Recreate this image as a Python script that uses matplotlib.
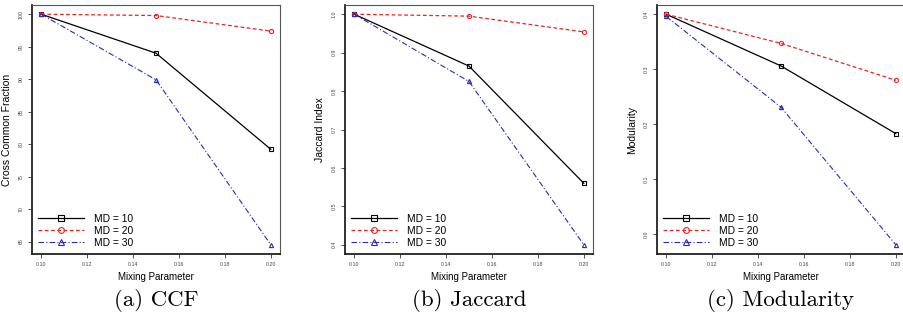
import numpy as np
import matplotlib
matplotlib.use("Agg")
import matplotlib.pyplot as plt

plt.rcParams["font.family"] = ["Liberation Sans", "DejaVu Sans"]

# mixing parameter values on the x axis
mixing = [0.10, 0.15, 0.20]
xticks = [0.10, 0.12, 0.14, 0.16, 0.18, 0.20]
series_names = ["MD = 10", "MD = 20", "MD = 30"]

ccf_md10 = [100.0, 94.0, 79.2]
ccf_md20 = [100.0, 99.8, 97.4]
ccf_md30 = [100.0, 89.9, 64.5]
ccf_yticks = [65, 70, 75, 80, 85, 90, 95, 100]

jac_md10 = [1.0, 0.865, 0.56]
jac_md20 = [1.0, 0.995, 0.954]
jac_md30 = [1.0, 0.825, 0.40]
jac_yticks = [0.4, 0.5, 0.6, 0.7, 0.8, 0.9, 1.0]

mod_md10 = [0.400, 0.306, 0.183]
mod_md20 = [0.400, 0.347, 0.280]
mod_md30 = [0.396, 0.231, -0.019]
mod_yticks = [0.0, 0.1, 0.2, 0.3, 0.4]

styles = [
    dict(color="black", linestyle="-", marker="s", lw=0.9),
    dict(color="#ee2222", linestyle=(0, (3, 2)), marker="o", lw=0.9),
    dict(color="#2a2ab8", linestyle=(0, (5, 2, 1, 2)), marker="^", lw=0.8),
]

panels = [
    ("Cross Common Fraction", [ccf_md10, ccf_md20, ccf_md30], ccf_yticks,
     "%d", "(a) CCF"),
    ("Jaccard Index", [jac_md10, jac_md20, jac_md30], jac_yticks,
     "%.1f", "(b) Jaccard"),
    ("Modularity", [mod_md10, mod_md20, mod_md30], mod_yticks,
     "%.1f", "(c) Modularity"),
]

fig = plt.figure(figsize=(9.04, 3.22), dpi=100)
W, H = 904.0, 322.0
lefts = [32, 345, 657]
width = 248
top, bottom = 5, 254

for (ylabel, data, yticks, fmt, caption), left in zip(panels, lefts):
    ax = fig.add_axes([left / W, 1 - bottom / H, width / W, (bottom - top) / H])
    for ys, name, st in zip(data, series_names, styles):
        ax.plot(mixing, ys, label=name, markersize=3.0, markerfacecolor="none",
                markeredgewidth=0.8, **st)

    # R-style 4% padding around the data range
    allv = np.concatenate([np.asarray(d) for d in data])
    lo, hi = allv.min(), allv.max()
    pad = 0.04 * (hi - lo)
    ax.set_ylim(lo - pad, hi + pad)
    xpad = 0.04 * (mixing[-1] - mixing[0])
    ax.set_xlim(mixing[0] - xpad, mixing[-1] + xpad)

    ax.set_xticks(xticks)
    ax.set_xticklabels(["%.2f" % v for v in xticks], fontsize=3.8, color="#444444")
    ax.set_yticks(yticks)
    ax.set_yticklabels([fmt % v for v in yticks], fontsize=3.8, color="#444444",
                       rotation=90, va="center")
    ax.tick_params(direction="out", length=3, width=0.6, pad=3, color="#333333")

    for side in ["left", "bottom"]:
        ax.spines[side].set_linewidth(1.3)
        ax.spines[side].set_color("#222222")
    for side in ["top", "right"]:
        ax.spines[side].set_linewidth(0.8)
        ax.spines[side].set_color("#555555")

    ax.set_xlabel("Mixing Parameter", fontsize=7, labelpad=3)
    ax.set_ylabel(ylabel, fontsize=7.5, labelpad=5)

    ax.legend(loc="lower left", frameon=False, fontsize=7.4,
              handlelength=4.5, markerscale=1.4, labelspacing=0.2,
              handletextpad=0.9, borderaxespad=0.45, borderpad=0.15)

    fig.text((left + width / 2) / W, 1 - 301 / H, caption, family="cmr10",
             fontsize=16.5, ha="center", va="center")

fig.savefig("out.png", dpi=100)
